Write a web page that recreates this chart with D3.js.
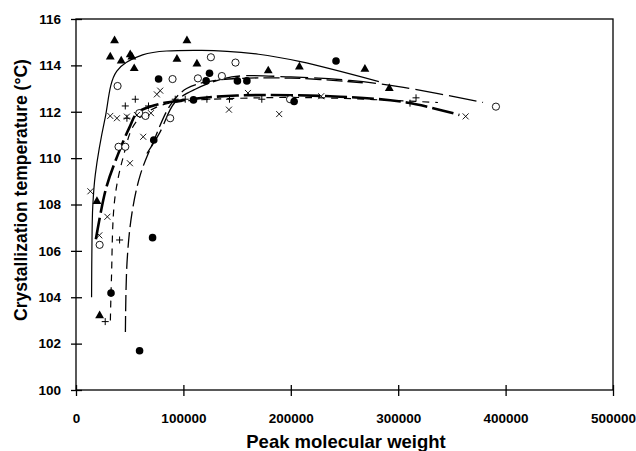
<!DOCTYPE html>
<meta charset="utf-8">
<style>
body { margin: 0; background: #fff; }
text { font-family: Arial, "Liberation Sans", sans-serif; fill: #000; }
.tick text { font-size: 13.5px; font-weight: bold; }
.title { font-weight: bold; }
.curve { fill: none; stroke: #000; }
</style>
<svg width="636" height="451"></svg>
<script src="https://d3js.org/d3.v7.min.js"></script>
<script>

// markers (peak MW, Tc in °C)
var triX = [19500, 22000, 35900, 31900, 42100, 50500, 52000, 54200, 103300, 94000, 112600, 179000, 208000, 269000, 291700];
var triY = [108.17, 103.24, 115.1, 114.4, 114.23, 114.5, 114.4, 113.9, 115.1, 114.3, 114.1, 113.8, 113.97, 113.87, 113.04];

var fcX = [72400, 59200, 71300, 32600, 76900, 124300, 121200, 109400, 150300, 159100, 203100, 242100];
var fcY = [110.78, 101.69, 106.57, 104.18, 113.41, 113.66, 113.33, 112.51, 113.33, 113.33, 112.44, 114.19];

var ocX = [38700, 89900, 113500, 125600, 148500, 135800, 199300, 87700, 39600, 45900, 58900, 64700, 22000, 391000];
var ocY = [113.11, 113.41, 113.44, 114.35, 114.12, 113.54, 112.54, 111.72, 110.49, 110.49, 111.94, 111.82, 106.26, 112.22];

var plX = [45900, 55200, 67500, 47400, 92400, 101700, 121900, 142900, 173000, 311000, 316600, 40600, 27200];
var plY = [112.25, 112.54, 112.25, 111.72, 112.54, 112.54, 112.54, 112.54, 112.54, 112.37, 112.6, 106.47, 102.95];

var crX = [13400, 29200, 31900, 38100, 47400, 56700, 69800, 62600, 50200, 75300, 78400, 142400, 160100, 189200, 228300, 362800, 21700];
var crY = [108.57, 107.47, 111.82, 111.72, 111.79, 111.86, 111.94, 110.92, 109.78, 112.75, 112.91, 112.09, 112.81, 111.9, 112.67, 111.8, 106.67];

// fitted curves
var curveTri = [[14500, 104.0], [14900, 106.5], [15600, 107.9], [18000, 109.3], [27000, 111.7], [38000, 113.75], [62000, 114.45], [115000, 114.65], [170000, 114.48], [209000, 114.16], [282000, 113.3]];
var curveOc = [[18500, 106.5], [28000, 108.7], [39000, 110.15], [50000, 111.35], [57000, 111.95], [75000, 112.3], [100000, 112.5], [150000, 112.7], [246000, 112.65], [308000, 112.4], [357000, 111.86]];
var curveFc = [[46000, 102.5], [47500, 105.5], [52000, 107.6], [60000, 109.3], [72000, 110.7], [88000, 112.3], [103000, 113.0], [130000, 113.35], [200000, 113.45], [267000, 113.25]];
var curvePl = [[32000, 103.0], [33000, 104.8], [36000, 108.2], [43700, 110.0], [55000, 111.5], [75000, 112.2], [100000, 112.45], [170000, 112.6], [230000, 112.6], [337000, 112.4]];
var curveCr = [[66000, 110.2], [78000, 111.1], [92000, 112.4], [111000, 112.97], [145000, 113.5], [200000, 113.5], [255000, 113.35], [305000, 113.05], [379000, 112.4]];

var xTicks = [0, 100000, 200000, 300000, 400000, 500000];
var yTicks = [100, 102, 104, 106, 108, 110, 112, 114, 116];

var svg = d3.select("svg"),
    pLeft = 76, pRight = 613, pTop = 19, pBottom = 390;

var x = d3.scaleLinear().domain([0, 500000]).range([pLeft, pRight]),
    y = d3.scaleLinear().domain([100, 116]).range([pBottom, pTop]);

// frame
svg.append("rect")
    .attr("x", pLeft).attr("y", pTop)
    .attr("width", pRight - pLeft).attr("height", pBottom - pTop)
    .attr("fill", "none").attr("stroke", "#000").attr("stroke-width", 1.3);

var xAxis = svg.append("g")
    .attr("transform", "translate(0," + pBottom + ")")
    .call(d3.axisBottom(x).tickValues(xTicks).tickFormat(d3.format("d")).tickSize(6).tickPadding(17));
xAxis.selectAll(".tick line").attr("y1", -5).attr("stroke-width", 1.3);
xAxis.select(".domain").remove();

var yAxis = svg.append("g")
    .attr("transform", "translate(" + pLeft + ",0)")
    .call(d3.axisLeft(y).tickValues(yTicks).tickSize(5).tickPadding(10));
yAxis.selectAll(".tick line").attr("x1", 6).attr("x2", -5).attr("stroke-width", 1.3);
yAxis.select(".domain").remove();
xAxis.attr("font-family", null).attr("font-size", null);
yAxis.attr("font-family", null).attr("font-size", null);

svg.append("text").attr("class", "title")
    .attr("x", 346).attr("y", 448)
    .attr("text-anchor", "middle")
    .style("font-size", "18.5px")
    .text("Peak molecular weight");

svg.append("text").attr("class", "title")
    .attr("transform", "translate(27,190) rotate(-90)")
    .attr("text-anchor", "middle")
    .style("font-size", "17.5px")
    .text("Crystallization temperature (°C)");

// curves
var line = d3.line()
    .x(function(d) { return x(d[0]); })
    .y(function(d) { return y(d[1]); })
    .curve(d3.curveCatmullRom.alpha(0.5));

var curves = [
  {pts: curveTri, w: 1.2, dash: null},
  {pts: curveOc, w: 2.6, dash: "22,5"},
  {pts: curveFc, w: 1.3, dash: "16,5"},
  {pts: curvePl, w: 1.2, dash: "7,6"},
  {pts: curveCr, w: 1.3, dash: "28,6"}
];

svg.append("g").selectAll("path")
    .data(curves)
    .enter().append("path")
    .attr("class", "curve")
    .attr("d", function(d) { return line(d.pts); })
    .attr("stroke-width", function(d) { return d.w; })
    .attr("stroke-dasharray", function(d) { return d.dash; });

function zip(xs, ys) {
  return xs.map(function(v, i) { return [v, ys[i]]; });
}

var marks = svg.append("g");

marks.selectAll(".tri")
    .data(zip(triX, triY))
    .enter().append("path")
    .attr("d", d3.symbol().type(d3.symbolTriangle).size(34))
    .attr("transform", function(d) { return "translate(" + x(d[0]) + "," + (y(d[1]) + 0.8) + ")"; })
    .attr("fill", "#000");

marks.selectAll(".oc")
    .data(zip(ocX, ocY))
    .enter().append("circle")
    .attr("cx", function(d) { return x(d[0]); })
    .attr("cy", function(d) { return y(d[1]); })
    .attr("r", 3.6)
    .attr("fill", "#fff").attr("stroke", "#000").attr("stroke-width", 0.9);

marks.selectAll(".fc")
    .data(zip(fcX, fcY))
    .enter().append("circle")
    .attr("cx", function(d) { return x(d[0]); })
    .attr("cy", function(d) { return y(d[1]); })
    .attr("r", 3.8)
    .attr("fill", "#000");

marks.selectAll(".pl")
    .data(zip(plX, plY))
    .enter().append("path")
    .attr("d", "M-3.5,0H3.5M0,-3.5V3.5")
    .attr("transform", function(d) { return "translate(" + x(d[0]) + "," + y(d[1]) + ")"; })
    .attr("stroke", "#000").attr("stroke-width", 1);

marks.selectAll(".cr")
    .data(zip(crX, crY))
    .enter().append("path")
    .attr("d", "M-3,-3L3,3M-3,3L3,-3")
    .attr("transform", function(d) { return "translate(" + x(d[0]) + "," + y(d[1]) + ")"; })
    .attr("stroke", "#000").attr("stroke-width", 0.9);

</script>
